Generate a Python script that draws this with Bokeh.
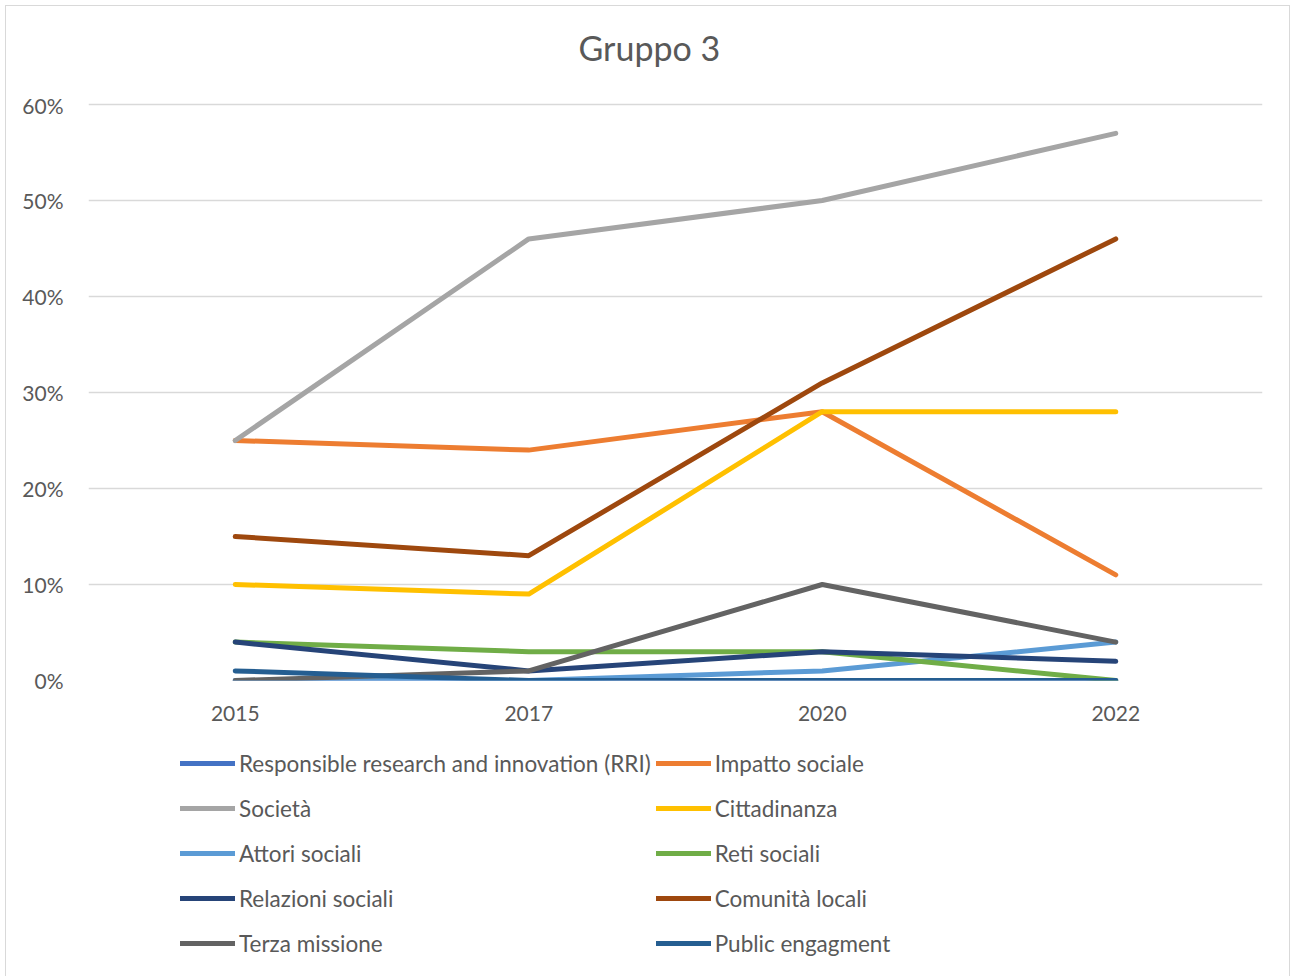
from bokeh.plotting import figure
from bokeh.layouts import column
from bokeh.models import Legend, LegendItem, PrintfTickFormatter, FixedTicker, Range1d, FactorRange
from bokeh.embed import file_html
from bokeh.resources import INLINE

years = ["2015", "2017", "2020", "2022"]

series_names = [
    "Responsible research and innovation (RRI)",
    "Impatto sociale",
    "Società",
    "Cittadinanza",
    "Attori sociali",
    "Reti sociali",
    "Relazioni sociali",
    "Comunità locali",
    "Terza missione",
    "Public engagment",
]

rri = [0, 0, 0, 0]
impatto_sociale = [25, 24, 28, 11]
societa = [25, 46, 50, 57]
cittadinanza = [10, 9, 28, 28]
attori_sociali = [0, 0, 1, 4]
reti_sociali = [4, 3, 3, 0]
relazioni_sociali = [4, 1, 3, 2]
comunita_locali = [15, 13, 31, 46]
terza_missione = [0, 1, 10, 4]
public_engagment = [1, 0, 0, 0]

series_values = [rri, impatto_sociale, societa, cittadinanza, attori_sociali,
                 reti_sociali, relazioni_sociali, comunita_locali, terza_missione,
                 public_engagment]

colors = ["#4472C4", "#ED7D31", "#A5A5A5", "#FFC000", "#5B9BD5",
          "#70AD47", "#264478", "#9E480E", "#636363", "#255E91"]

y_ticks = [0, 10, 20, 30, 40, 50, 60]

FONT = "Lato"
TEXT_COLOR = "#595959"
W = 1283


def blank(fig):
    fig.xgrid.grid_line_color = None
    fig.ygrid.grid_line_color = None
    fig.outline_line_color = None
    fig.background_fill_color = "white"
    fig.border_fill_color = "white"


# title strip
pt = figure(width=W, height=86,
            x_range=Range1d(0, 1), y_range=Range1d(0, 1),
            output_backend="svg", toolbar_location=None,
            x_axis_location=None, y_axis_location=None,
            min_border_left=0, min_border_right=0,
            min_border_top=0, min_border_bottom=0,
            title="Gruppo 3")
blank(pt)
pt.title.align = "left"
pt.title.offset = 490
pt.title.text_font = FONT
pt.title.text_font_size = "34px"
pt.title.text_font_style = "normal"
pt.title.text_color = TEXT_COLOR
pt.title.standoff = 37

# main chart
p = figure(width=W, height=634,
           x_range=FactorRange(*years), y_range=Range1d(0, 60.21),
           output_backend="svg", toolbar_location=None,
           min_border_left=82, min_border_right=27,
           min_border_top=10, min_border_bottom=46)
blank(p)

p.ygrid.grid_line_color = "#d9d9d9"
p.ygrid.grid_line_width = 1.5
p.yaxis.ticker = FixedTicker(ticks=y_ticks)
p.yaxis.formatter = PrintfTickFormatter(format="%d%%")

for ax in (p.xaxis, p.yaxis):
    ax.axis_line_color = None
    ax.major_tick_line_color = None
    ax.minor_tick_line_color = None
    ax.major_label_text_font = FONT
    ax.major_label_text_font_size = "21px"
    ax.major_label_text_color = TEXT_COLOR
p.xaxis.major_label_standoff = 19
p.yaxis.major_label_standoff = 19

for vals, col in zip(series_values, colors):
    p.line(x=years, y=vals, line_color=col, line_width=5,
           line_cap="round", line_join="round")

# legend strip below the chart
pl = figure(width=W, height=250,
            x_range=Range1d(0, 1), y_range=Range1d(0, 1),
            output_backend="svg", toolbar_location=None,
            x_axis_location=None, y_axis_location=None,
            min_border_left=0, min_border_right=0,
            min_border_top=0, min_border_bottom=0)
blank(pl)

items = []
for name, col in zip(series_names, colors):
    r = pl.line(x=[0, 1], y=[0, 0], line_color=col, line_width=5,
                line_cap="round", visible=False)
    items.append(LegendItem(label=name, renderers=[r]))

legend = Legend(items=items, orientation="horizontal", ncols=2,
                location=(92, 13), padding=0, margin=0,
                spacing=5, glyph_width=55, glyph_height=40, label_height=40,
                label_standoff=4, click_policy="none",
                label_text_font=FONT, label_text_font_size="22.5px",
                label_text_color=TEXT_COLOR,
                border_line_color=None, background_fill_alpha=0)
pl.add_layout(legend, "center")

layout = column(pt, p, pl, spacing=0, margin=(5, 0, 0, 5))
layout.styles = {"border": "1px solid #d9d9d9", "background-color": "white"}

open("out.html", "w").write(file_html(layout, INLINE))
